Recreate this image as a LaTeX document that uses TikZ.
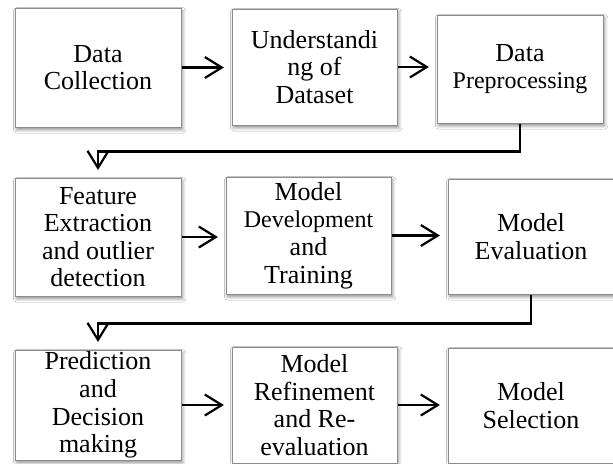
\documentclass[tikz,border=0pt]{standalone}
\usepackage{fontspec}
\setmainfont{Liberation Serif}
\usetikzlibrary{arrows.meta,shadows.blur}
\begin{document}
\begin{tikzpicture}[x=0.5pt,y=-0.5pt,
  stage/.style={draw=black!45, line width=0.5pt, fill=white, align=center,
    inner sep=0pt, font=\fontsize{13}{13.8}\selectfont,
    blur shadow={shadow xshift=0.8pt, shadow yshift=-1.4pt,
      shadow blur radius=1.6pt, shadow opacity=45}},
  flow/.style={line width=1.3pt,
    -{Straight Barb[length=8.5pt,width=10.5pt,line width=1.1pt]},
    shorten >=3.8pt},
  smalltext/.style={}
]
% page
\fill[white] (0,0) rectangle (613,463);
\useasboundingbox (0,0) rectangle (613,463);

% row 1
\node[stage, minimum width=83pt, minimum height=59.5pt] (b1) at (98,67.5)
  {Data\\Collection};
\node[stage, minimum width=82.5pt, minimum height=58pt] (b2) at (314.5,67)
  {Understandi\\ng of\\Dataset};
\node[stage, minimum width=83pt, minimum height=54pt] (b3) at (520,69)
  {Data\\{\fontsize{12}{13.8}\selectfont Preprocessing}};

% row 2
\node[stage, minimum width=83pt, minimum height=59pt] (b4) at (98,237)
  {Feature\\Extraction\\and outlier\\detection};
\node[stage, minimum width=82.5pt, minimum height=58.5pt] (b5) at (308.5,235.5)
  {Model\\{\fontsize{12}{13.8}\selectfont Development}\\and\\Training};
\node[stage, minimum width=83pt, minimum height=57.5pt] (b6) at (531,236.5)
  {Model\\Evaluation};

% row 3
\node[stage, minimum width=83pt, minimum height=55pt] (b7) at (98,405)
  {Prediction\\and\\Decision\\making};
\node[stage, minimum width=82.5pt, minimum height=58pt] (b8) at (314.5,405)
  {Model\\Refinement\\and Re-\\evaluation};
\node[stage, minimum width=83pt, minimum height=57.5pt] (b9) at (531,405.5)
  {Model\\Selection};

% arrows within rows
\draw[flow] (b1.east) -- (b1.east -| b2.west);
\draw[flow] (b2.east) -- (b2.east -| b3.west);
\draw[flow] (b4.east) -- (b4.east -| b5.west);
\draw[flow] (b5.east) -- (b5.east -| b6.west);
\draw[flow] (b7.east) -- (b7.east -| b8.west);
\draw[flow] (b8.east) -- (b8.east -| b9.west);

% returns to the next row
\draw[flow] (b3.south) -- ++(0,28) -| (b4.north);
\draw[flow] (b6.south) -- ++(0,29) -| (b7.north);
\end{tikzpicture}
\end{document}
